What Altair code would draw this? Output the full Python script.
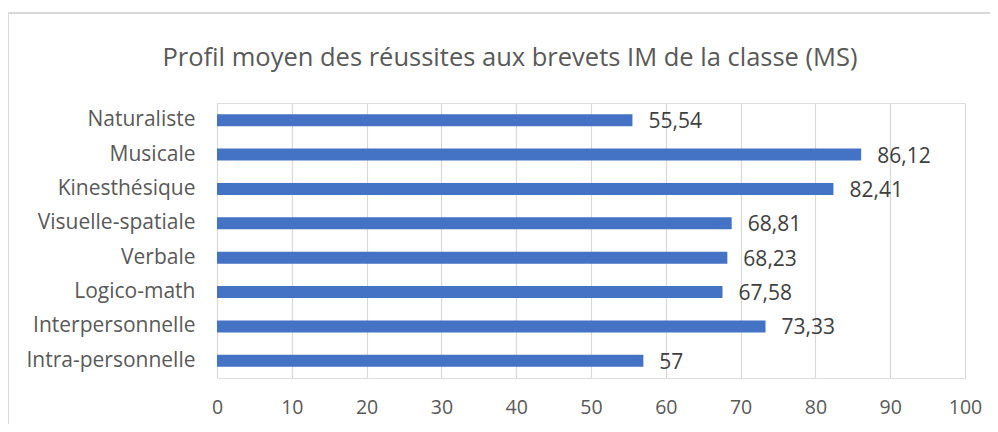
import altair as alt
import pandas as pd

categories = ["Naturaliste", "Musicale", "Kinesthésique", "Visuelle-spatiale",
              "Verbale", "Logico-math", "Interpersonnelle", "Intra-personnelle"]
values = [55.54, 86.12, 82.41, 68.81, 68.23, 67.58, 73.33, 57]
labels = ["55,54", "86,12", "82,41", "68,81", "68,23", "67,58", "73,33", "57"]
title_text = ["Profil moyen des réussites aux brevets IM de la classe (MS)"]

df = pd.DataFrame({"cat": categories, "val": values, "lab": labels})
df_title = pd.DataFrame({"t": title_text})

FONT = "Open Sans"

y_enc = alt.Y("cat:N", sort=categories, title=None,
              scale=alt.Scale(paddingInner=0.65, paddingOuter=0.325),
              axis=alt.Axis(domain=False, ticks=False, labelPadding=22,
                            labelFontSize=21, labelColor="#595959", labelFont=FONT))
x_enc = alt.X("val:Q", title=None,
              scale=alt.Scale(domain=[0, 100], nice=False),
              axis=alt.Axis(values=list(range(0, 101, 10)), domain=False, ticks=False,
                            grid=True, gridColor="#d9d9d9", gridWidth=1.2, labelFlush=False,
                            labelPadding=20, labelFontSize=19.5, labelColor="#595959",
                            labelFont=FONT))

base = alt.Chart(df)
bars = base.mark_bar(color="#4472C4").encode(x=x_enc, y=y_enc)
text = base.mark_text(align="left", baseline="middle", dx=16, dy=2,
                      fontSize=21, color="#404040", font=FONT).encode(
    x="val:Q", y=alt.Y("cat:N", sort=categories), text="lab:N")

frame = alt.Chart(df_title).mark_rect(fill=None, stroke="#d9d9d9", strokeWidth=2).encode(
    x=alt.value(-209), x2=alt.value(800), y=alt.value(-90), y2=alt.value(400))

title = alt.Chart(df_title).mark_text(fontSize=25.5, font=FONT, color="#595959",
                                      align="center", baseline="middle").encode(
    x=alt.value(293), y=alt.value(-45), text="t:N")

chart = alt.layer(frame, title, bars, text).properties(
    width=748, height=275,
    autosize=alt.AutoSizeParams(type="none"),
    padding={"left": 209, "top": 95, "right": 25, "bottom": 46},
).configure_view(stroke=None).configure(background="white")

chart.save("out.html", embed_options={"renderer": "svg", "actions": False})
